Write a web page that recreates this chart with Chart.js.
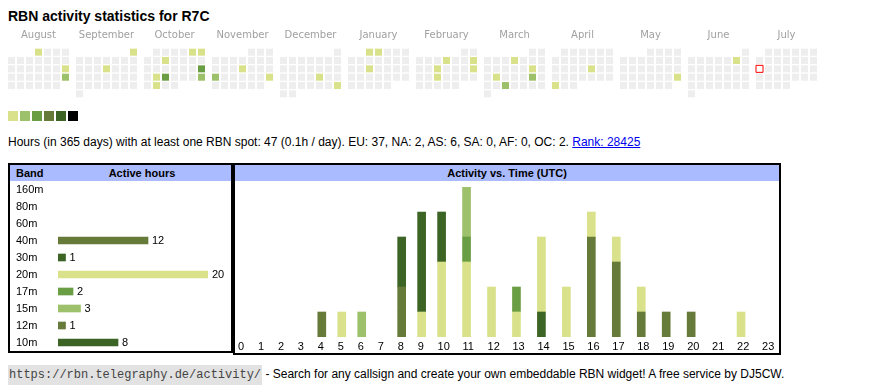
<!DOCTYPE html>
<html>
<head>
<meta charset="utf-8">
<title>RBN activity statistics for R7C</title>
<script src="https://cdn.jsdelivr.net/npm/chart.js@4.4.1/dist/chart.umd.min.js"></script>
<style>
    body { margin: 0; background: #fff; color: #000; font-family: Arial, "Liberation Sans", sans-serif; font-size: 11px; }
    .abs { position: absolute; }
    #title { left: 8px; top: 8px; font-size: 14px; font-weight: bold; line-height: 16px; white-space: nowrap; }
    #calendarChart { left: 0; top: 24px; }
    #legend { left: 8px; top: 111px; }
    #legend span { position: absolute; top: 0; width: 10px; height: 10px; }
    #summary { left: 8px; top: 135px; font-size: 12px; line-height: 14px; white-space: nowrap; }
    #summary a { color: #0000ee; }
    .box { position: absolute; border: 2px solid #000; box-sizing: border-box; }
    .head { position: relative; height: 16px; line-height: 16px; background: #aabbff; font-weight: bold; white-space: nowrap; }
    #bandBox { left: 8px; top: 163px; width: 225px; height: 190px; }
    #timeBox { left: 233px; top: 163px; width: 548px; height: 192px; }
    #footer { left: 8px; top: 367px; font-size: 12px; line-height: 15px; white-space: nowrap; }
    #footer code { font-family: "Courier New", "Liberation Mono", monospace; font-size: 12px; background: #e2e2e2; color: #444; padding: 3px 1px; }
</style>
</head>
<body>
<div id="title" class="abs">RBN activity statistics for R7C</div>
<canvas id="calendarChart" class="abs" width="830" height="80"></canvas>
<div id="legend" class="abs"></div>
<div id="summary" class="abs">Hours (in 365 days) with at least one RBN spot: 47 (0.1h / day). EU: 37, NA: 2, AS: 6, SA: 0, AF: 0, OC: 2. <a href="#">Rank: 28425</a></div>

<div id="bandBox" class="box">
    <div class="head"><span style="position:absolute;left:6px">Band</span><span style="position:absolute;left:52px;width:160px;text-align:center">Active hours</span></div>
    <canvas id="bandChart" width="221" height="170" style="display:block"></canvas>
</div>

<div id="timeBox" class="box">
    <div class="head" style="text-align:center">Activity vs. Time (UTC)</div>
    <canvas id="timeChart" width="544" height="172" style="display:block"></canvas>
</div>

<div id="footer" class="abs"><code>https://rbn.telegraphy.de/activity/</code> - Search for any callsign and create your own embeddable RBN widget! A free service by DJ5CW.</div>

<script>
// Calendario (agosto 2024 - julio 2025)
const monthNames = ['August', 'September', 'October', 'November', 'December', 'January',
    'February', 'March', 'April', 'May', 'June', 'July'];
const firstYear = 2024;
const firstMonth = 7; // agosto, 0 = enero
const today = '2025-07-14';

const activeDays = [
    '2024-08-01', '2024-08-18', '2024-08-25',
    '2024-09-01', '2024-09-12',
    '2024-10-05', '2024-10-06', '2024-10-09', '2024-10-20', '2024-10-22', '2024-10-23', '2024-10-27', '2024-10-29',
    '2024-11-14', '2024-11-18', '2024-11-24',
    '2024-12-20', '2024-12-29',
    '2025-01-01', '2025-01-02', '2025-01-15',
    '2025-02-06', '2025-02-09', '2025-02-12', '2025-02-16', '2025-02-19',
    '2025-03-06', '2025-03-15', '2025-03-18', '2025-03-22', '2025-03-26',
    '2025-04-18', '2025-04-28',
    '2025-05-25',
    '2025-06-07'
];
const activeLevels = [
    1, 1, 2,
    1, 1,
    1, 1, 1, 3, 1, 3, 2, 1,
    1, 2, 1,
    1, 1,
    1, 1, 1,
    1, 1, 1, 1, 1,
    1, 1, 1, 2, 2,
    1, 1,
    1,
    1
];

// Colores
const levelColors = ['#d9e28a', '#9dc06a', '#6a9e45', '#667a3a', '#3c6425', '#000000'];
const emptyColor = '#eeeeee';

// Horas activas por banda
const bands = ['160m', '80m', '60m', '40m', '30m', '20m', '17m', '15m', '12m', '10m'];
const bandHours = [0, 0, 0, 12, 1, 20, 2, 3, 1, 8];
const bandColors = ['#3c6425', '#667a3a', '#6a9e45', '#667a3a', '#3c6425', '#d9e28a', '#6a9e45', '#9dc06a', '#667a3a', '#3c6425'];

// Actividad por hora UTC
const hourLabels = ['0', '1', '2', '3', '4', '5', '6', '7', '8', '9', '10', '11',
    '12', '13', '14', '15', '16', '17', '18', '19', '20', '21', '22', '23'];
//               0  1  2  3  4  5  6  7  8  9 10 11 12 13 14 15 16 17 18 19 20 21 22 23
const act160m = [0, 0, 0, 0, 0, 0, 0, 0, 0, 0, 0, 0, 0, 0, 0, 0, 0, 0, 0, 0, 0, 0, 0, 0];
const act80m  = [0, 0, 0, 0, 0, 0, 0, 0, 0, 0, 0, 0, 0, 0, 0, 0, 0, 0, 0, 0, 0, 0, 0, 0];
const act60m  = [0, 0, 0, 0, 0, 0, 0, 0, 0, 0, 0, 0, 0, 0, 0, 0, 0, 0, 0, 0, 0, 0, 0, 0];
const act40m  = [0, 0, 0, 0, 1, 0, 0, 0, 1, 0, 0, 0, 0, 0, 0, 0, 4, 3, 1, 1, 1, 0, 0, 0];
const act30m  = [0, 0, 0, 0, 0, 0, 0, 0, 0, 0, 0, 0, 0, 0, 1, 0, 0, 0, 0, 0, 0, 0, 0, 0];
const act20m  = [0, 0, 0, 0, 0, 1, 0, 0, 0, 1, 3, 3, 2, 1, 3, 2, 1, 1, 1, 0, 0, 0, 1, 0];
const act17m  = [0, 0, 0, 0, 0, 0, 0, 0, 0, 0, 0, 1, 0, 1, 0, 0, 0, 0, 0, 0, 0, 0, 0, 0];
const act15m  = [0, 0, 0, 0, 0, 0, 1, 0, 0, 0, 0, 2, 0, 0, 0, 0, 0, 0, 0, 0, 0, 0, 0, 0];
const act12m  = [0, 0, 0, 0, 0, 0, 0, 0, 1, 0, 0, 0, 0, 0, 0, 0, 0, 0, 0, 0, 0, 0, 0, 0];
const act10m  = [0, 0, 0, 0, 0, 0, 0, 0, 2, 4, 2, 0, 0, 0, 0, 0, 0, 0, 0, 0, 0, 0, 0, 0];
const bandActivity = [act160m, act80m, act60m, act40m, act30m, act20m, act17m, act15m, act12m, act10m];

Chart.defaults.font.family = 'Arial, "Liberation Sans", sans-serif';
Chart.defaults.font.size = 11;
Chart.defaults.color = '#000';

document.addEventListener('DOMContentLoaded', function () {
    const blockPitch = 68 / 9; // ancho de un mes en celdas

    // Leyenda de niveles
    const legend = document.getElementById('legend');
    levelColors.forEach((c, i) => {
        const s = document.createElement('span');
        s.style.left = (i * 12) + 'px';
        s.style.background = c;
        legend.appendChild(s);
    });

    // Celdas del calendario
    function buildCalendarCells() {
        const cells = [];
        monthNames.forEach((name, b) => {
            const y = firstYear + Math.floor((firstMonth + b) / 12);
            const m = (firstMonth + b) % 12;
            const nDays = new Date(Date.UTC(y, m + 1, 0)).getUTCDate();
            const firstCol = (new Date(Date.UTC(y, m, 1)).getUTCDay() + 6) % 7;
            for (let d = 1; d <= nDays; d++) {
                const slot = firstCol + d - 1;
                const key = `${y}-${String(m + 1).padStart(2, '0')}-${String(d).padStart(2, '0')}`;
                const idx = activeDays.indexOf(key);
                cells.push({
                    x: b * blockPitch + slot % 7,
                    y: Math.floor(slot / 7),
                    key: key,
                    level: idx >= 0 ? activeLevels[idx] : 0
                });
            }
        });
        return cells;
    }

    const cells = buildCalendarCells();
    const dayCells = cells.filter(c => c.key !== today);
    const todayCells = cells.filter(c => c.key === today);

    new Chart(document.getElementById('calendarChart'), {
        type: 'scatter',
        data: {
            datasets: [{
                data: todayCells,
                pointStyle: 'rect',
                pointRadius: 4.95,
                pointBackgroundColor: '#ffffff',
                pointBorderColor: '#ff0000',
                pointBorderWidth: 1
            }, {
                data: dayCells,
                pointStyle: 'rect',
                pointRadius: 4.95,
                pointBorderWidth: 0,
                pointBackgroundColor: dayCells.map(c => c.level ? levelColors[c.level - 1] : emptyColor)
            }]
        },
        options: {
            responsive: false,
            animation: false,
            events: [],
            layout: { padding: { left: 7, right: 7, top: 0, bottom: 2 } },
            plugins: { legend: { display: false }, tooltip: { enabled: false } },
            scales: {
                x: {
                    type: 'linear',
                    position: 'top',
                    min: -0.5,
                    max: -0.5 + 816 / 9,
                    grid: { display: false, drawTicks: false },
                    border: { display: false },
                    afterBuildTicks: function (scale) {
                        scale.ticks = monthNames.map((n, b) => ({ value: b * blockPitch + 3 }));
                    },
                    afterFit: function (scale) { scale.height = 24; },
                    ticks: {
                        autoSkip: false,
                        maxRotation: 0,
                        padding: 7,
                        color: '#a0a0a0',
                        font: { family: '"DejaVu Sans", Verdana, sans-serif', size: 10 },
                        callback: (v, i) => monthNames[i]
                    }
                },
                y: {
                    display: false,
                    reverse: true,
                    min: -0.5,
                    max: 5.5
                }
            }
        }
    });

    // Etiquetas de valor al final de cada barra
    const barValueLabels = {
        id: 'barValueLabels',
        afterDatasetsDraw(chart) {
            const ctx = chart.ctx;
            const meta = chart.getDatasetMeta(0);
            ctx.save();
            ctx.font = '11px Arial, "Liberation Sans", sans-serif';
            ctx.fillStyle = '#000';
            ctx.textBaseline = 'middle';
            meta.data.forEach((bar, i) => {
                const v = chart.data.datasets[0].data[i];
                if (v > 0) ctx.fillText(String(v), bar.x + 4, bar.y);
            });
            ctx.restore();
        }
    };

    new Chart(document.getElementById('bandChart'), {
        type: 'bar',
        data: {
            labels: bands,
            datasets: [{
                data: bandHours.map(v => v || null),
                backgroundColor: bandColors,
                barThickness: 7
            }]
        },
        options: {
            indexAxis: 'y',
            responsive: false,
            animation: false,
            events: [],
            layout: { padding: { left: 6, right: 23, top: 0, bottom: 0 } },
            plugins: { legend: { display: false }, tooltip: { enabled: false } },
            scales: {
                x: { display: false, min: 0, max: 20 },
                y: {
                    grid: { display: false, drawTicks: false },
                    border: { display: false },
                    afterFit: function (scale) {
                        scale.width = 42;
                        scale.paddingTop = 0;
                        scale.paddingBottom = 0;
                    },
                    ticks: { crossAlign: 'far', padding: 0, autoSkip: false, color: '#000' }
                }
            }
        },
        plugins: [barValueLabels]
    });

    // Columnas de la tabla: ancho segun el largo de la etiqueta
    const hourPos = [];
    let acc = 0;
    hourLabels.forEach(l => {
        hourPos.push(acc);
        acc += l.length + 3;
    });

    new Chart(document.getElementById('timeChart'), {
        type: 'bar',
        data: {
            datasets: bands.map((band, i) => ({
                label: band,
                data: bandActivity[i].map((v, h) => ({ x: hourPos[h], y: v || null })),
                backgroundColor: bandColors[i],
                barThickness: 8
            }))
        },
        options: {
            responsive: false,
            animation: false,
            events: [],
            layout: { padding: { left: 6, right: 0, top: 6, bottom: 0 } },
            plugins: { legend: { display: false }, tooltip: { enabled: false } },
            scales: {
                x: {
                    type: 'linear',
                    min: 0,
                    max: 107.6,
                    offset: false,
                    stacked: true,
                    grid: { display: false, drawTicks: false },
                    border: { display: false },
                    afterBuildTicks: function (scale) {
                        scale.ticks = hourPos.map(p => ({ value: p - 0.8 }));
                    },
                    afterFit: function (scale) { scale.height = 16; },
                    ticks: {
                        autoSkip: false,
                        maxRotation: 0,
                        align: 'start',
                        padding: 3,
                        color: '#000',
                        callback: (v, i) => hourLabels[i]
                    }
                },
                y: { display: false, stacked: true, min: 0, max: 6 }
            }
        }
    });
});
</script>
</body>
</html>
